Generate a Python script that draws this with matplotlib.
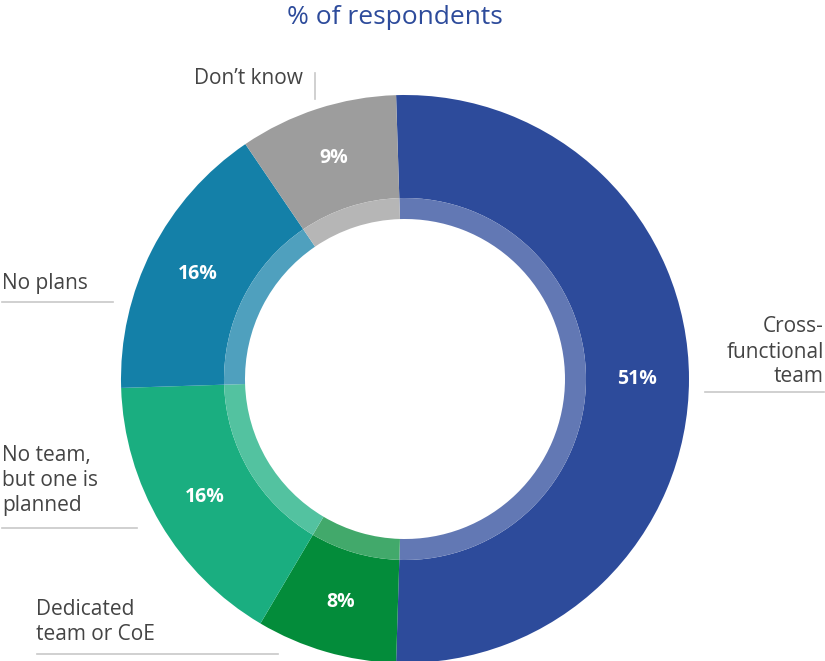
import matplotlib.pyplot as plt
import matplotlib.colors as mcolors
import numpy as np

plt.rcParams['font.family'] = ['Open Sans', 'DejaVu Sans']

# share of respondents, clockwise from the top
categories = ['Cross-\nfunctional\nteam', 'Dedicated\nteam or CoE',
              'No team,\nbut one is\nplanned', 'No plans', 'Don\u2019t know']
values = [51, 8, 16, 16, 9]
colors = ['#2d4b9b', '#038c3a', '#1aae80', '#1480a8', '#9d9d9d']

W, H = 825, 661
cx, cy = 405, H - 379
r_out, r_band, r_hole = 284, 181, 160
start = 91.8


def lighten(c, amt=0.25):
    rgb = np.array(mcolors.to_rgb(c))
    return tuple(rgb + (1 - rgb) * amt)


fig = plt.figure(figsize=(W / 100, H / 100), dpi=100)
ax = fig.add_axes([0, 0, 1, 1])

# main ring
wedges, _, pcts = ax.pie(values, colors=colors, startangle=start, counterclock=False,
                         radius=r_out, center=(cx, cy),
                         autopct=lambda p: f'{p:.0f}%', pctdistance=232 / r_out,
                         wedgeprops=dict(width=r_out - r_band, linewidth=0))
for t in pcts:
    t.set_color('white')
    t.set_fontsize(14)
    t.set_fontweight('bold')

# lighter inner band
ax.pie(values, colors=[lighten(c) for c in colors], startangle=start, counterclock=False,
       radius=r_band, center=(cx, cy),
       wedgeprops=dict(width=r_band - r_hole, linewidth=0))

ax.set_xlim(0, W)
ax.set_ylim(0, H)
ax.set_aspect('equal')
ax.axis('off')

ax.text(395, H - 17, '% of respondents', ha='center', va='center',
        fontsize=19, color='#2d4b9b')

txt = dict(fontsize=15, color='#444444', linespacing=1.25)
line = dict(color='#c8c8c8', lw=1.2)

# category labels and their leader lines
ax.text(824, H - 352, categories[0], ha='right', va='center', multialignment='right', **txt)
ax.plot([705, 824], [H - 392, H - 392], **line)

ax.text(36, H - 622, categories[1], ha='left', va='center', **txt)
ax.plot([37, 278], [H - 654, H - 654], **line)

ax.text(2, H - 481, categories[2], ha='left', va='center', **txt)
ax.plot([2, 137], [H - 528, H - 528], **line)

ax.text(2, H - 283, categories[3], ha='left', va='center', **txt)
ax.plot([2, 113], [H - 302, H - 302], **line)

ax.text(303, H - 79, categories[4], ha='right', va='center', **txt)
ax.plot([315, 315], [H - 73, H - 99], **line)

fig.savefig('out.png', dpi=100)
